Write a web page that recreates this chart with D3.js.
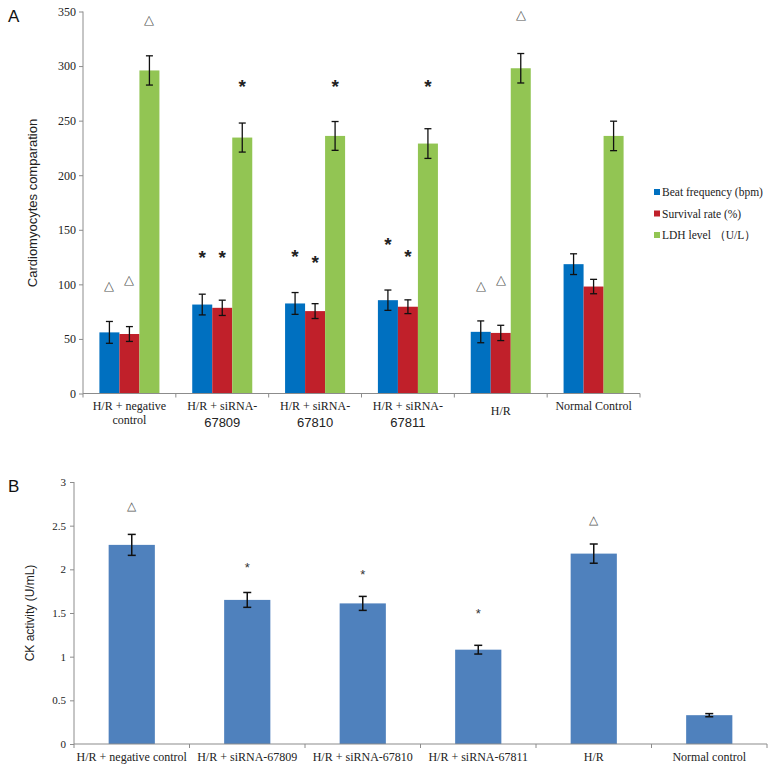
<!DOCTYPE html>
<html><head><meta charset="utf-8">
<script src="https://cdn.jsdelivr.net/npm/d3@7/dist/d3.min.js"></script>
<style>body{margin:0;background:#fff}svg{display:block}</style>
</head><body>
<svg id="c" width="768" height="770"></svg>
<script>
// ---------- Panel A data ----------
const catsA = [["H/R + negative","control"],["H/R + siRNA-","67809"],["H/R + siRNA-","67810"],["H/R + siRNA-","67811"],["H/R",""],["Normal Control",""]];
const seriesA = ["Beat frequency (bpm)","Survival rate (%)","LDH level \uFF08U/L\uFF09"];
const beat = [56, 81.5, 82.5, 85.5, 56.5, 118.5];
const beatErr = [10, 9.5, 10, 9.3, 10, 9.5];
const survival = [54.5, 78.5, 75.5, 79.5, 55.5, 98];
const survivalErr = [6.8, 7, 6.8, 6.3, 7, 6.6];
const ldh = [296, 234.5, 236, 229, 298, 236];
const ldhErr = [13.4, 13.3, 13.2, 13.6, 13.5, 13.5];
// markers: [symbol, y-value] per series per group
const beatMark = [["\u25B3",99],["*",127],["*",128],["*",139],["\u25B3",99],null];
const survMark = [["\u25B3",105],["*",127],["*",122],["*",128],["\u25B3",105],null];
const ldhMark = [["\u25B3",343],["*",284],["*",284],["*",284],["\u25B3",348],null];
const ticksA = [0,50,100,150,200,250,300,350];
// ---------- Panel B data ----------
const catsB = ["H/R + negative control","H/R + siRNA-67809","H/R + siRNA-67810","H/R + siRNA-67811","H/R","Normal control"];
const ck = [2.28, 1.65, 1.61, 1.08, 2.18, 0.33];
const ckErr = [0.12, 0.085, 0.08, 0.05, 0.11, 0.018];
const ckMark = [["\u25B3",2.74],["*",2.05],["*",1.97],["*",1.52],["\u25B3",2.58],null];
const ticksB = [0,0.5,1,1.5,2,2.5,3];

const colorsA = ["#0070C0","#C0202A","#92C553"];
const colorB = "#4F81BD";
const serif = "'Liberation Serif','Times New Roman',serif";
const sans = "'Liberation Sans',Arial,sans-serif";
const axisCol = "#8c8c8c";

const svg = d3.select("#c");

// ================= Panel A =================
const xA = d3.scaleBand().domain(d3.range(catsA.length)).range([83, 640]).padding(0);
const x1 = d3.scaleBand().domain(d3.range(3)).range([0, xA.bandwidth()]).paddingInner(0).paddingOuter(0.82);
const yA = d3.scaleLinear().domain([0,350]).range([393.5, 11.5]);
const gA = svg.append("g");

const valsA = [beat, survival, ldh], errsA = [beatErr, survivalErr, ldhErr], marksA = [beatMark, survMark, ldhMark];

valsA.forEach((vals, s) => {
  const g = gA.append("g");
  g.selectAll("rect").data(vals).join("rect")
    .attr("x", (d,i) => xA(i) + x1(s))
    .attr("width", x1.bandwidth())
    .attr("y", d => yA(d))
    .attr("height", d => yA(0) - yA(d))
    .attr("fill", colorsA[s]);
  vals.forEach((v,i) => {
    const cx = xA(i) + x1(s) + x1.bandwidth()/2;
    const e = errsA[s][i];
    const eg = g.append("g").attr("stroke","#111").attr("stroke-width",1.3);
    eg.append("line").attr("x1",cx).attr("x2",cx).attr("y1",yA(v+e)).attr("y2",yA(v-e));
    eg.append("line").attr("x1",cx-3.5).attr("x2",cx+3.5).attr("y1",yA(v+e)).attr("y2",yA(v+e));
    eg.append("line").attr("x1",cx-3.5).attr("x2",cx+3.5).attr("y1",yA(v-e)).attr("y2",yA(v-e));
    const m = marksA[s][i];
    if (m) {
      const isTri = m[0] !== "*";
      g.append("text").attr("x",cx).attr("y",yA(m[1]) + (isTri?5:9))
        .attr("text-anchor","middle")
        .attr("font-family", isTri ? sans : sans)
        .attr("font-size", isTri ? 13 : 19)
        .attr("font-weight", isTri ? "normal" : "bold")
        .attr("fill", isTri ? "#555" : "#222")
        .text(m[0]);
    }
  });
});

// axes A
const axA = d3.axisLeft(yA).tickValues(ticksA).tickSize(4).tickPadding(3).tickFormat(d3.format("d"));
const gyA = gA.append("g").attr("transform","translate(83,0)").call(axA);
gyA.select(".domain").attr("stroke",axisCol).attr("d",`M0,${yA(350)}V${yA(0)}`);
gyA.selectAll(".tick line").attr("stroke",axisCol);
gyA.selectAll(".tick text").attr("font-family",serif).attr("font-size",12).attr("fill","#222");

gA.append("line").attr("x1",83).attr("x2",640).attr("y1",yA(0)).attr("y2",yA(0)).attr("stroke",axisCol).attr("stroke-width",1.2);
d3.range(catsA.length+1).forEach(i => {
  const xx = i < catsA.length ? xA(i) : xA.range()[1];
  gA.append("line").attr("x1",xx).attr("x2",xx).attr("y1",yA(0)).attr("y2",yA(0)+4).attr("stroke",axisCol);
});
catsA.forEach((c,i) => {
  const cx = xA(i) + xA.bandwidth()/2;
  if (c[1] === "") {
    gA.append("text").attr("x",cx).attr("y", c[0]==="H/R" ? 415 : 410).attr("text-anchor","middle")
      .attr("font-family",serif).attr("font-size",12).attr("fill","#222").text(c[0]);
  } else {
    gA.append("text").attr("x",cx).attr("y",410).attr("text-anchor","middle")
      .attr("font-family",serif).attr("font-size",12).attr("fill","#222").text(c[0]);
    const isNum = /^\d+$/.test(c[1]);
    gA.append("text").attr("x",cx).attr("y", isNum ? 427 : 424).attr("text-anchor","middle")
      .attr("font-family", isNum ? sans : serif).attr("font-size", isNum ? 13 : 12).attr("fill","#222").text(c[1]);
  }
});

gA.append("text").attr("transform","translate(37,203) rotate(-90)").attr("text-anchor","middle")
  .attr("font-family",sans).attr("font-size",13).attr("fill","#222").text("Cardiomyocytes  comparation");

// legend
const lg = gA.append("g").attr("transform","translate(654,193)");
seriesA.forEach((s,i) => {
  lg.append("rect").attr("x",0).attr("y",i*21.5-4).attr("width",6).attr("height",6).attr("fill",colorsA[i]);
  lg.append("text").attr("x",8).attr("y",i*21.5+3).attr("font-family",serif).attr("font-size",11.5).attr("fill","#222").text(s);
});

svg.append("text").attr("x",8).attr("y",22).attr("font-family",sans).attr("font-size",17).attr("fill","#111").text("A");

// ================= Panel B =================
const xB = d3.scaleBand().domain(d3.range(catsB.length)).range([74, 767]).paddingInner(0.6).paddingOuter(0.3);
const yB = d3.scaleLinear().domain([0,3]).range([744, 482]);
const gB = svg.append("g");
gB.selectAll("rect").data(ck).join("rect")
  .attr("x",(d,i)=>xB(i)).attr("width",xB.bandwidth())
  .attr("y",d=>yB(d)).attr("height",d=>yB(0)-yB(d)).attr("fill",colorB);
ck.forEach((v,i) => {
  const cx = xB(i) + xB.bandwidth()/2, e = ckErr[i];
  const eg = gB.append("g").attr("stroke","#111").attr("stroke-width",1.5);
  eg.append("line").attr("x1",cx).attr("x2",cx).attr("y1",yB(v+e)).attr("y2",yB(v-e));
  eg.append("line").attr("x1",cx-4).attr("x2",cx+4).attr("y1",yB(v+e)).attr("y2",yB(v+e));
  eg.append("line").attr("x1",cx-4).attr("x2",cx+4).attr("y1",yB(v-e)).attr("y2",yB(v-e));
  const m = ckMark[i];
  if (m) {
    const isTri = m[0] !== "*";
    gB.append("text").attr("x",cx).attr("y",yB(m[1]) + (isTri?5:7)).attr("text-anchor","middle")
      .attr("font-family",sans).attr("font-size", isTri ? 12 : 13)
      .attr("fill", isTri ? "#555" : "#333").text(m[0]);
  }
});
const axB = d3.axisLeft(yB).tickValues(ticksB).tickSize(4).tickPadding(4).tickFormat(d => String(d));
const gyB = gB.append("g").attr("transform","translate(74,0)").call(axB);
gyB.select(".domain").attr("stroke",axisCol).attr("d",`M0,${yB(3)}V${yB(0)}`);
gyB.selectAll(".tick line").attr("stroke",axisCol);
gyB.selectAll(".tick text").attr("font-family",serif).attr("font-size",11).attr("fill","#222");
gB.append("line").attr("x1",74).attr("x2",767).attr("y1",yB(0)).attr("y2",yB(0)).attr("stroke",axisCol).attr("stroke-width",1.2);
const stepB = xB.step();
d3.range(catsB.length+1).forEach(i => {
  const xx = 74 + i*stepB;
  gB.append("line").attr("x1",xx).attr("x2",xx).attr("y1",yB(0)).attr("y2",yB(0)+4).attr("stroke",axisCol);
});
catsB.forEach((c,i) => {
  gB.append("text").attr("x",xB(i)+xB.bandwidth()/2).attr("y",761).attr("text-anchor","middle")
    .attr("font-family",serif).attr("font-size",12).attr("fill","#222").text(c);
});
gB.append("text").attr("transform","translate(34,613) rotate(-90)").attr("text-anchor","middle")
  .attr("font-family",sans).attr("font-size",12).attr("fill","#222").text("CK activity (U/mL)");
svg.append("text").attr("x",8).attr("y",492).attr("font-family",sans).attr("font-size",17).attr("fill","#111").text("B");
</script>
</body></html>
